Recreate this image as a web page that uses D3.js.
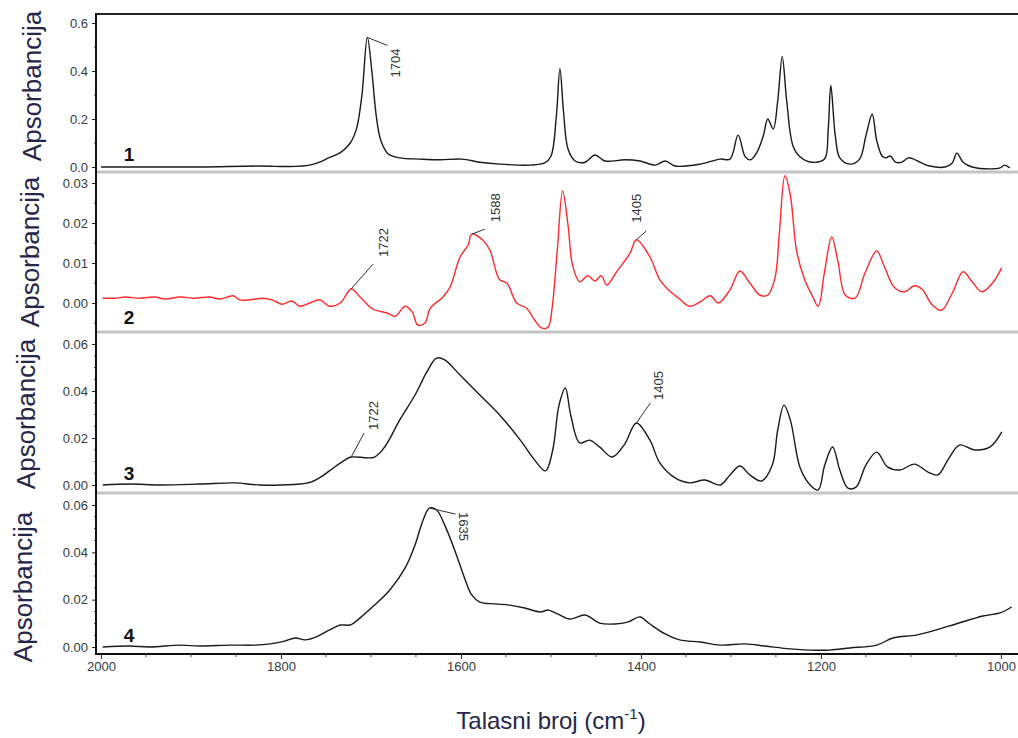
<!DOCTYPE html>
<html><head><meta charset="utf-8">
<script src="https://cdn.jsdelivr.net/npm/d3@7"></script>
<style>body{margin:0;background:#fff}svg{display:block}</style>
</head><body>
<script>
// ---------- DATA ----------
const xTicks = [2000, 1800, 1600, 1400, 1200, 1000];
const yTicks1 = [0, 0.2, 0.4, 0.6];
const yTickLabels1 = ["0.0", "0.2", "0.4", "0.6"];
const yTicks2 = [0, 0.01, 0.02, 0.03];
const yTickLabels2 = ["0.00", "0.01", "0.02", "0.03"];
const yTicks3 = [0, 0.02, 0.04, 0.06];
const yTickLabels3 = ["0.00", "0.02", "0.04", "0.06"];
const yTicks4 = [0, 0.02, 0.04, 0.06];
const yTickLabels4 = ["0.00", "0.02", "0.04", "0.06"];
const panelNames = ["1", "2", "3", "4"];
const yTitle = "Apsorbancija";

const wn1 = [2000,1946,1890,1823,1790,1768,1757,1746,1734,1723,1716,1710,1704,1699,1694,1689,1681,1668,1646,1623,1599,1579,1557,1523,1507,1500,1494,1490,1486,1481,1473,1462,1451,1440,1418,1401,1384,1373,1362,1334,1312,1301,1292,1284,1278,1271,1264,1259,1253,1248,1243,1238,1231,1223,1210,1196,1192,1189,1184,1179,1168,1157,1150,1143,1138,1132,1128,1123,1117,1110,1103,1097,1090,1079,1062,1054,1049,1042,1032,1012,1001,996,990];
const abs1 = [0,0,0,0.004,0.002,0.008,0.02,0.04,0.06,0.10,0.16,0.30,0.54,0.40,0.21,0.11,0.055,0.038,0.033,0.03,0.033,0.02,0.012,0.008,0.017,0.045,0.21,0.41,0.23,0.075,0.025,0.02,0.05,0.025,0.03,0.025,0.008,0.025,0.004,0.012,0.033,0.033,0.133,0.042,0.03,0.062,0.13,0.20,0.158,0.275,0.46,0.275,0.088,0.042,0.02,0.033,0.15,0.34,0.13,0.038,0.012,0.033,0.13,0.22,0.11,0.046,0.038,0.046,0.02,0.02,0.038,0.033,0.02,0.004,0,0.017,0.058,0.02,0,-0.008,-0.004,0.008,-0.004];

const wn2 = [1998,1984,1973,1957,1940,1929,1912,1896,1879,1868,1853,1846,1834,1821,1810,1799,1788,1779,1768,1757,1746,1734,1722,1712,1698,1682,1673,1662,1654,1648,1640,1634,1620,1612,1601,1592,1588,1576,1568,1557,1549,1538,1527,1518,1510,1503,1499,1493,1487,1481,1476,1468,1459,1451,1444,1438,1427,1412,1405,1390,1379,1368,1357,1346,1334,1323,1314,1301,1290,1279,1268,1259,1251,1246,1240,1234,1227,1218,1210,1203,1196,1188,1181,1173,1162,1151,1138,1129,1118,1107,1096,1087,1077,1066,1054,1042,1032,1021,1010,999];
const abs2 = [0.0012,0.0012,0.0015,0.0012,0.0015,0.001,0.0015,0.0012,0.0015,0.001,0.0018,0.0008,0.0008,0.0012,0.0008,-0.0003,0.0005,-0.0008,0,0.0008,-0.0008,0,0.0035,0.0015,-0.0015,-0.0025,-0.0033,-0.0008,-0.0023,-0.0055,-0.005,-0.0013,0.0015,0.004,0.0115,0.0145,0.0172,0.0158,0.0133,0.0058,0.005,0,-0.0013,-0.0043,-0.0063,-0.006,-0.0018,0.013,0.028,0.0195,0.0095,0.0053,0.0068,0.0055,0.0068,0.0045,0.0078,0.0125,0.0158,0.0115,0.0058,0.003,0.001,-0.0008,0.0003,0.0018,0,0.0033,0.008,0.005,0.002,0.002,0.0063,0.018,0.0318,0.027,0.013,0.0058,0.002,-0.0008,0.0078,0.0165,0.0103,0.002,0.0012,0.0075,0.013,0.0088,0.0038,0.0028,0.0043,0.0033,-0.0003,-0.0018,0.0025,0.0078,0.0053,0.0028,0.0048,0.0088];

const wn3 = [1998,1968,1934,1890,1851,1823,1779,1766,1754,1742,1729,1722,1696,1684,1668,1651,1638,1627,1618,1601,1579,1557,1534,1518,1506,1498,1491,1484,1478,1468,1457,1446,1432,1418,1405,1390,1379,1362,1346,1329,1312,1301,1290,1279,1266,1254,1248,1241,1234,1223,1212,1203,1196,1187,1179,1170,1161,1150,1138,1126,1112,1096,1081,1070,1059,1046,1029,1012,999];
const abs3 = [0,0.0004,0,0.0004,0.0009,0,0.0004,0.0013,0.0038,0.0072,0.0106,0.0119,0.0119,0.0166,0.0277,0.0383,0.048,0.054,0.0532,0.0468,0.0383,0.0298,0.0191,0.0106,0.006,0.0149,0.034,0.0413,0.0298,0.0179,0.0191,0.0162,0.0119,0.0174,0.0264,0.0191,0.0094,0.003,0.0009,0.0021,0,0.0043,0.0081,0.0043,0.0017,0.0085,0.0234,0.034,0.0277,0.0072,0,-0.0021,0.0081,0.0162,0.0064,-0.0013,-0.0009,0.0085,0.014,0.0077,0.0064,0.0089,0.0055,0.0043,0.0106,0.017,0.0149,0.0162,0.0226];

const wn4 = [1998,1968,1946,1912,1890,1857,1829,1812,1796,1784,1773,1759,1746,1734,1723,1712,1696,1679,1662,1651,1642,1635,1627,1618,1607,1596,1588,1579,1562,1546,1529,1512,1503,1492,1479,1462,1446,1429,1414,1401,1390,1373,1357,1334,1312,1284,1262,1234,1212,1190,1168,1138,1120,1093,1057,1020,1001,988];
const abs4 = [0,0.0004,0,0.0008,0.0004,0.0008,0.0008,0.0013,0.0025,0.0038,0.003,0.0046,0.0072,0.0093,0.0093,0.0123,0.0177,0.0241,0.0334,0.0431,0.0537,0.0587,0.0579,0.0515,0.041,0.0292,0.022,0.019,0.0182,0.0177,0.0165,0.0148,0.0156,0.0139,0.0118,0.0135,0.0101,0.0097,0.0106,0.0127,0.0097,0.0055,0.003,0.0021,0.0008,0.0013,0.0004,-0.0008,-0.0013,-0.0013,-0.0004,0.0008,0.0038,0.0051,0.0089,0.0131,0.0144,0.0169];

const peakLabels = ["1704", "1722", "1588", "1405", "1722", "1405", "1635"];
const peakPanels = [0, 1, 1, 1, 2, 2, 3];
const peakWn = [1704, 1722, 1588, 1405, 1722, 1405, 1635];

// ---------- LAYOUT ----------
const W = 1018, H = 738;
const xLeft = 96, xRight = 1018;
const panels = [
  {top: 14, bottom: 171, y0: 167, yTop: 23, yMax: 0.6, wn: wn1, ab: abs1, ticks: yTicks1, labels: yTickLabels1, minor: 0.1, color: "#1a1a1a", titleX: 32, titleY: 86, numY: 161},
  {top: 173, bottom: 331, y0: 303, yTop: 183, yMax: 0.03, wn: wn2, ab: abs2, ticks: yTicks2, labels: yTickLabels2, minor: 0.005, color: "#ff2a2a", titleX: 30, titleY: 252, numY: 324},
  {top: 333, bottom: 492, y0: 485, yTop: 344, yMax: 0.06, wn: wn3, ab: abs3, ticks: yTicks3, labels: yTickLabels3, minor: 0.005, color: "#1a1a1a", titleX: 26, titleY: 414, numY: 480},
  {top: 494, bottom: 654, y0: 647, yTop: 505, yMax: 0.06, wn: wn4, ab: abs4, ticks: yTicks4, labels: yTickLabels4, minor: 0.005, color: "#1a1a1a", titleX: 23, titleY: 587, numY: 642}
];
// label offsets relative to the peak point: leader end (lx,ly), text anchor (tx,ty), rotation
const peakOffsets = [
  {lx: 20, ly: 8, tx: 33, ty: 40, rot: -90},
  {lx: 22, ly: -25, tx: 37, ty: -32, rot: -90},
  {lx: 13, ly: -5, tx: 28, ty: -12, rot: -90},
  {lx: 10, ly: -9, tx: 5, ty: -17, rot: -90},
  {lx: 13, ly: -24, tx: 27, ty: -27, rot: -90},
  {lx: 14, ly: -20, tx: 27, ty: -23, rot: -90},
  {lx: 26, ly: 6, tx: 30, ty: 4, rot: 90}
];

const svg = d3.select("body").append("svg").attr("width", W).attr("height", H)
  .style("font-family", "'Liberation Sans', Arial, sans-serif");

const x = d3.scaleLinear().domain([2005.5, 981]).range([xLeft, xRight]);

const defs = svg.append("defs");

panels.forEach((p, i) => {
  const y = d3.scaleLinear().domain([0, p.yMax]).range([p.y0, p.yTop]);
  p.y = y;
  defs.append("clipPath").attr("id", "clip" + i).append("rect")
    .attr("x", xLeft + 1).attr("y", p.top).attr("width", xRight - xLeft).attr("height", p.bottom - p.top);

  if (i < 3) {
    svg.append("line").attr("x1", xLeft).attr("x2", xRight).attr("y1", p.bottom + 1).attr("y2", p.bottom + 1)
      .attr("stroke", "#c4c4c4").attr("stroke-width", 3);
  }

  const ax = d3.axisLeft(y).tickValues(p.ticks).tickSize(4).tickPadding(4)
    .tickFormat((d, k) => p.labels[k]);
  const g = svg.append("g").attr("transform", `translate(${xLeft},0)`).call(ax);
  g.select(".domain").remove();
  g.selectAll("text").attr("font-size", 13).attr("fill", "#3a3a3a")
    .attr("font-family", "'Liberation Sans', Arial, sans-serif");
  g.selectAll("line").attr("stroke", "#222");
  const minors = d3.range(-1, Math.round(p.yMax / p.minor) + 1).map(k => k * p.minor)
    .filter(v => !p.ticks.some(t => Math.abs(t - v) < 1e-9) && y(v) > p.top && y(v) < p.bottom);
  svg.append("g").selectAll("line").data(minors).join("line")
    .attr("x1", xLeft - 2).attr("x2", xLeft).attr("y1", d => y(d)).attr("y2", d => y(d))
    .attr("stroke", "#444").attr("stroke-width", 1);

  const data = p.wn.map((w, k) => [w, p.ab[k]]);
  svg.append("path").datum(data)
    .attr("clip-path", `url(#clip${i})`)
    .attr("d", d3.line().x(d => x(d[0])).y(d => y(d[1])).curve(d3.curveCatmullRom.alpha(0.5)))
    .attr("fill", "none").attr("stroke", p.color).attr("stroke-width", 1.4).attr("stroke-linejoin", "round");

  svg.append("text").attr("transform", `translate(${p.titleX},${p.titleY}) rotate(-90)`)
    .attr("text-anchor", "middle").attr("dominant-baseline", "central")
    .attr("font-size", 26).attr("fill", "#26264a").text(yTitle);

  svg.append("text").attr("x", 129).attr("y", p.numY).attr("text-anchor", "middle")
    .attr("font-size", 19).attr("font-weight", "bold").attr("fill", "#111").text(panelNames[i]);
});

svg.append("line").attr("x1", xLeft).attr("x2", xRight).attr("y1", 14).attr("y2", 14)
  .attr("stroke", "#222").attr("stroke-width", 2);
svg.append("line").attr("x1", xLeft).attr("x2", xLeft).attr("y1", 13).attr("y2", 655)
  .attr("stroke", "#111").attr("stroke-width", 2);

const xAx = d3.axisBottom(x).tickValues(xTicks).tickSize(5).tickPadding(3).tickFormat(d3.format("d"));
const gx = svg.append("g").attr("transform", "translate(0,654)").call(xAx);
gx.select(".domain").attr("stroke", "#111").attr("stroke-width", 2).attr("d", `M${xLeft},0H${xRight}`);
gx.selectAll("text").attr("font-size", 13).attr("fill", "#3a3a3a")
  .attr("font-family", "'Liberation Sans', Arial, sans-serif");
gx.selectAll("line").attr("stroke", "#222");
const xMinor = d3.range(1950, 980, -50).filter(v => v % 200 !== 0);
svg.append("g").selectAll("line").data(xMinor).join("line")
  .attr("x1", d => x(d)).attr("x2", d => x(d)).attr("y1", 654).attr("y2", 657)
  .attr("stroke", "#444");

const xt = svg.append("text").attr("x", 551).attr("y", 729).attr("text-anchor", "middle")
  .attr("font-size", 24).attr("fill", "#26264a");
xt.append("tspan").text("Talasni broj (cm");
xt.append("tspan").attr("dy", -10).attr("font-size", 15).text("-1");
xt.append("tspan").attr("dy", 10).text(")");

peakLabels.forEach((lab, k) => {
  const p = panels[peakPanels[k]];
  const w = peakWn[k];
  const idx = d3.minIndex(p.wn, v => Math.abs(v - w));
  const px = x(w), py = p.y(p.ab[idx]);
  const o = peakOffsets[k];
  svg.append("line").attr("x1", px).attr("y1", py).attr("x2", px + o.lx).attr("y2", py + o.ly)
    .attr("stroke", "#333").attr("stroke-width", 1);
  svg.append("text").attr("transform", `translate(${px + o.tx},${py + o.ty}) rotate(${o.rot})`)
    .attr("text-anchor", "start").attr("font-size", 13).attr("fill", "#333").text(lab);
});
</script>
</body></html>
